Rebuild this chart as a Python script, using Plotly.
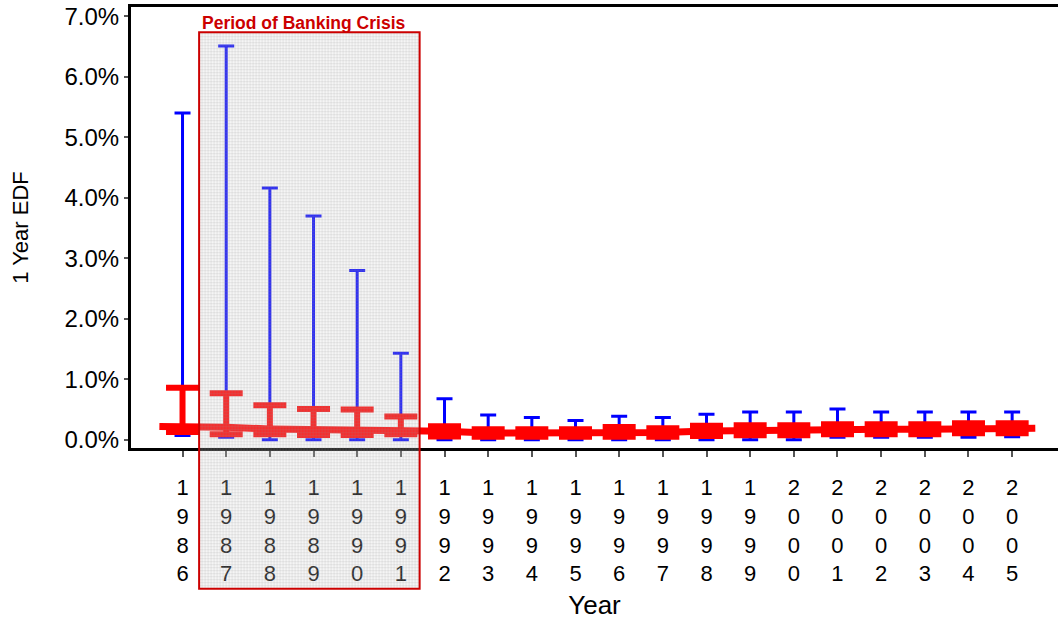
import plotly.graph_objects as go

years = list(range(1986, 2006))
blue_hi = [5.40, 6.51, 4.16, 3.70, 2.80, 1.43, 0.68, 0.41, 0.37, 0.32,
           0.39, 0.37, 0.42, 0.46, 0.46, 0.51, 0.46, 0.46, 0.46, 0.46]
blue_lo = [0.07, 0.04, 0.00, 0.00, 0.00, 0.00, 0.00, 0.00, 0.00, 0.00,
           0.00, 0.00, 0.00, 0.00, 0.00, 0.04, 0.04, 0.04, 0.04, 0.05]
red_hi = [0.86, 0.77, 0.57, 0.51, 0.50, 0.385, 0.224, 0.175, 0.175, 0.175,
          0.21, 0.19, 0.23, 0.24, 0.24, 0.257, 0.257, 0.257, 0.274, 0.274]
red_lo = [0.13, 0.09, 0.09, 0.08, 0.08, 0.09, 0.055, 0.05, 0.05, 0.05,
          0.05, 0.05, 0.063, 0.073, 0.073, 0.09, 0.09, 0.09, 0.106, 0.106]
median = [0.22, 0.205, 0.18, 0.17, 0.17, 0.17, 0.14, 0.11, 0.11, 0.11,
          0.13, 0.12, 0.145, 0.157, 0.157, 0.174, 0.174, 0.174, 0.19, 0.19]
tick_labels = ["<br>".join(str(y)) for y in years]
y_ticks = [0, 1, 2, 3, 4, 5, 6, 7]
y_tick_labels = [f"{v:.1f}%" for v in y_ticks]
crisis_start, crisis_end = 1986.38, 1991.43
crisis_label = "Period of Banking Crisis"

FONT = "Arial, Liberation Sans, sans-serif"
BLUE = "#0000ff"
RED = "#ff0000"

fig = go.Figure()

# blue whiskers (full range)
fig.add_trace(go.Scatter(
    x=years, y=median, mode="markers",
    marker=dict(color="rgba(0,0,0,0)", size=1),
    error_y=dict(type="data", symmetric=False,
                 array=[h - m for h, m in zip(blue_hi, median)],
                 arrayminus=[m - l for m, l in zip(median, blue_lo)],
                 color=BLUE, thickness=3, width=8),
    hoverinfo="skip", showlegend=False))

# red median line
ext = 0.53
fig.add_trace(go.Scatter(
    x=[years[0] - ext] + years + [years[-1] + ext],
    y=[median[0]] + median + [median[-1]],
    mode="lines", line=dict(color=RED, width=7),
    hoverinfo="skip", showlegend=False))

# red whiskers (inner range)
fig.add_trace(go.Scatter(
    x=years, y=median, mode="markers",
    marker=dict(color="rgba(0,0,0,0)", size=1),
    error_y=dict(type="data", symmetric=False,
                 array=[h - m for h, m in zip(red_hi, median)],
                 arrayminus=[m - l for m, l in zip(median, red_lo)],
                 color=RED, thickness=6, width=16.5),
    hoverinfo="skip", showlegend=False))

# plot geometry (for the hatched overlay)
W, H = 1058, 625
ML, MR, MT, MB = 131, 0, 7, 177
xr = [1984.82, 2006.05]
yr = [-0.136, 7.154]
plot_w = W - ML - MR
plot_h = H - MT - MB
y_top, y_bot = 0.943, -0.319

# grid texture path inside the crisis box
step_px = 3.0
dx = step_px * (xr[1] - xr[0]) / plot_w
dy = step_px / plot_h
parts = []
xv = crisis_start + dx
while xv < crisis_end:
    parts.append(f"M{xv:.4f},{y_bot:.4f}L{xv:.4f},{y_top:.4f}")
    xv += dx
yv = y_bot + dy
while yv < y_top:
    parts.append(f"M{crisis_start:.4f},{yv:.5f}L{crisis_end:.4f},{yv:.5f}")
    yv += dy

fig.add_shape(type="rect", xref="x", yref="paper",
              x0=crisis_start, x1=crisis_end, y0=y_bot, y1=y_top,
              fillcolor="rgba(210,210,210,0.22)", line=dict(width=0),
              layer="above")
fig.add_shape(type="path", xref="x", yref="paper", path="".join(parts),
              line=dict(color="rgba(150,150,150,0.16)", width=1),
              layer="above")
fig.add_shape(type="rect", xref="x", yref="paper",
              x0=crisis_start, x1=crisis_end, y0=y_bot, y1=y_top,
              fillcolor="rgba(0,0,0,0)", line=dict(color="#cc0000", width=2),
              layer="above")
fig.add_annotation(x=crisis_start, xref="x", xanchor="left",
                   y=y_top, yref="paper", yanchor="bottom",
                   text=f"<b>{crisis_label}</b>", showarrow=False,
                   font=dict(family=FONT, size=17.5, color="#cc0000"),
                   xshift=1, yshift=-3)

fig.update_layout(
    width=W, height=H,
    margin=dict(l=ML, r=MR, t=MT, b=MB, autoexpand=False),
    plot_bgcolor="white", paper_bgcolor="white",
    font=dict(family=FONT, color="black"),
    showlegend=False,
)
fig.update_xaxes(
    range=xr, tickmode="array", tickvals=years, ticktext=tick_labels,
    showline=True, linecolor="black", linewidth=3, mirror=True,
    ticks="outside", ticklen=6, tickwidth=1.5, tickcolor="#555555",
    showgrid=False, zeroline=False, ticklabelstandoff=12,
    tickfont=dict(family=FONT, size=22, color="black"),
    title=dict(text="Year", font=dict(family=FONT, size=26, color="black"),
               standoff=11),
)
fig.update_yaxes(
    range=yr, tickmode="array", tickvals=y_ticks, ticktext=y_tick_labels,
    showline=True, linecolor="black", linewidth=3,
    ticks="outside", ticklen=4, tickwidth=1.5, tickcolor="#555555",
    showgrid=False, zeroline=False,
    tickfont=dict(family=FONT, size=24, color="black"),
    title=dict(text="1 Year EDF", font=dict(family=FONT, size=22, color="black"),
               standoff=30),
)

fig.write_html("out.html")
